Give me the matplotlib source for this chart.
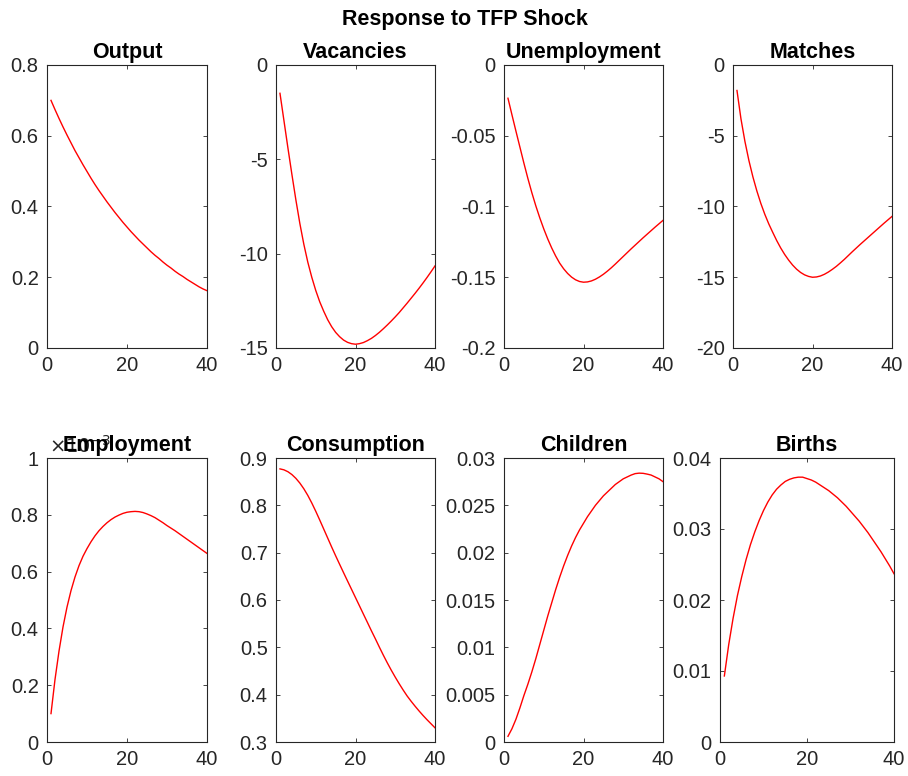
import numpy as np
import matplotlib.pyplot as plt
from matplotlib.ticker import FuncFormatter

plt.rcParams['font.family'] = ['Liberation Sans', 'DejaVu Sans']
plt.rcParams['axes.unicode_minus'] = False

# periods after the shock
t = list(range(1, 41))

output = [0.700, 0.674, 0.649, 0.625, 0.602, 0.580, 0.558, 0.538, 0.518, 0.499,
          0.480, 0.462, 0.445, 0.429, 0.413, 0.398, 0.383, 0.369, 0.355, 0.342,
          0.329, 0.317, 0.305, 0.294, 0.283, 0.272, 0.262, 0.253, 0.243, 0.234,
          0.226, 0.217, 0.209, 0.202, 0.194, 0.187, 0.180, 0.173, 0.167, 0.162]
vacancies = [-1.5, -2.95, -4.4, -5.8, -7.15, -8.4, -9.5, -10.45, -11.25, -11.95,
             -12.55, -13.05, -13.5, -13.87, -14.17, -14.4, -14.58, -14.7, -14.77, -14.8,
             -14.77, -14.71, -14.61, -14.49, -14.34, -14.17, -13.98, -13.78, -13.57, -13.35,
             -13.12, -12.87, -12.62, -12.36, -12.1, -11.83, -11.55, -11.26, -10.96, -10.65]
unemployment = [-0.0235, -0.0352, -0.0467, -0.0580, -0.0693, -0.0801, -0.0902, -0.0995, -0.1080, -0.1158,
                -0.1229, -0.1293, -0.1350, -0.1400, -0.1440, -0.1473, -0.1499, -0.1518, -0.1530, -0.1535,
                -0.1533, -0.1526, -0.1514, -0.1498, -0.1479, -0.1457, -0.1433, -0.1407, -0.1380, -0.1353,
                -0.1326, -0.1299, -0.1273, -0.1247, -0.1221, -0.1196, -0.1171, -0.1146, -0.1122, -0.1098]
matches = [-1.8, -3.8, -5.4, -6.75, -7.9, -8.9, -9.78, -10.55, -11.23, -11.83,
           -12.41, -12.93, -13.39, -13.79, -14.14, -14.43, -14.66, -14.83, -14.94, -15.0,
           -14.98, -14.91, -14.79, -14.63, -14.44, -14.23, -13.99, -13.74, -13.47, -13.2,
           -12.94, -12.68, -12.43, -12.18, -11.93, -11.68, -11.43, -11.18, -10.94, -10.7]
# employment in units of 1e-3
employment = [0.100, 0.220, 0.320, 0.405, 0.475, 0.533, 0.581, 0.621, 0.654, 0.681,
              0.705, 0.726, 0.744, 0.759, 0.772, 0.783, 0.792, 0.799, 0.805, 0.809,
              0.811, 0.812, 0.811, 0.808, 0.803, 0.797, 0.790, 0.781, 0.772, 0.762,
              0.753, 0.744, 0.734, 0.724, 0.714, 0.704, 0.694, 0.684, 0.674, 0.664]
consumption = [0.877, 0.875, 0.871, 0.865, 0.857, 0.847, 0.835, 0.821, 0.805, 0.7875,
               0.769, 0.750, 0.731, 0.712, 0.6935, 0.6755, 0.6577, 0.6401, 0.6226, 0.6051,
               0.5876, 0.570, 0.5526, 0.535, 0.518, 0.5005, 0.4835, 0.4672, 0.4517, 0.437,
               0.423, 0.4097, 0.3971, 0.386, 0.3755, 0.3655, 0.356, 0.347, 0.3385, 0.330]
children = [0.0006, 0.0014, 0.0024, 0.0036, 0.0049, 0.0061, 0.0074, 0.0088, 0.0103, 0.0118,
            0.0133, 0.0147, 0.0161, 0.0174, 0.0186, 0.0197, 0.0207, 0.0216, 0.0224, 0.0231,
            0.0238, 0.0244, 0.0250, 0.0255, 0.0260, 0.0264, 0.0268, 0.0272, 0.0275, 0.0278,
            0.0280, 0.0282, 0.02835, 0.0284, 0.02838, 0.0283, 0.0282, 0.0280, 0.0278, 0.0275]
births = [0.0093, 0.0137, 0.0174, 0.0206, 0.0233, 0.0257, 0.0278, 0.0296, 0.0312, 0.0326,
          0.0338, 0.0348, 0.0356, 0.0362, 0.0367, 0.0370, 0.0372, 0.0373, 0.0373, 0.0371,
          0.0369, 0.0366, 0.0362, 0.0358, 0.0354, 0.0349, 0.0344, 0.0338, 0.0332, 0.0325,
          0.0318, 0.0311, 0.0303, 0.0295, 0.0286, 0.0277, 0.0268, 0.0258, 0.0248, 0.0237]

titles = ["Output", "Vacancies", "Unemployment", "Matches",
          "Employment", "Consumption", "Children", "Births"]
series = [output, vacancies, unemployment, matches,
          [e * 1e-3 for e in employment], consumption, children, births]
ylims = [(0, 0.8), (-15, 0), (-0.2, 0), (-20, 0),
         (0, 1e-3), (0.3, 0.9), (0, 0.03), (0, 0.04)]
ysteps = [0.2, 5, 0.05, 5, 0.2e-3, 0.1, 0.005, 0.01]
xticks = [0, 20, 40]

W, H = 908, 776
fig = plt.figure(figsize=(W / 100, H / 100), dpi=100)

# axes boxes in pixels: (left, right, top, bottom)
boxes = [(47, 207, 65, 348), (276, 435, 65, 348), (504, 663, 65, 348), (733, 892, 65, 348),
         (47, 207, 458, 742), (276, 435, 458, 742), (504, 663, 458, 742), (720, 894, 458, 742)]

dark = '#262626'
for i in range(8):
    l, r, tp, bt = boxes[i]
    ax = fig.add_axes([l / W, (H - bt) / H, (r - l) / W, (bt - tp) / H])
    ax.plot(t, series[i], color='#ff0000', lw=1.0)
    ax.set_xlim(0, 40)
    lo, hi = ylims[i]
    ax.set_ylim(lo, hi)
    n = int(round((hi - lo) / ysteps[i]))
    ax.set_yticks(np.linspace(lo, hi, n + 1))
    ax.set_xticks(xticks)
    if titles[i] == "Employment":
        ax.yaxis.set_major_formatter(FuncFormatter(lambda v, p: '{:g}'.format(round(v * 1e3, 6))))
        ax.text(0.01, 1.005, r'$\times10^{-3}$', transform=ax.transAxes, ha='left',
                va='bottom', fontsize=14, color=dark)
    else:
        ax.yaxis.set_major_formatter(FuncFormatter(lambda v, p: '{:g}'.format(round(v, 6))))
    ax.tick_params(direction='in', length=3, width=0.6, colors=dark, labelsize=14.5,
                   top=True, right=True, pad=6)
    for s in ax.spines.values():
        s.set_color(dark)
        s.set_linewidth(0.8)
    ax.set_title(titles[i], fontsize=15.5, fontweight='bold', pad=5)

fig.text(465 / W, (H - 25) / H, "Response to TFP Shock", ha='center', va='baseline',
         fontsize=15.5, fontweight='bold')

fig.savefig('out.png', dpi=100)
